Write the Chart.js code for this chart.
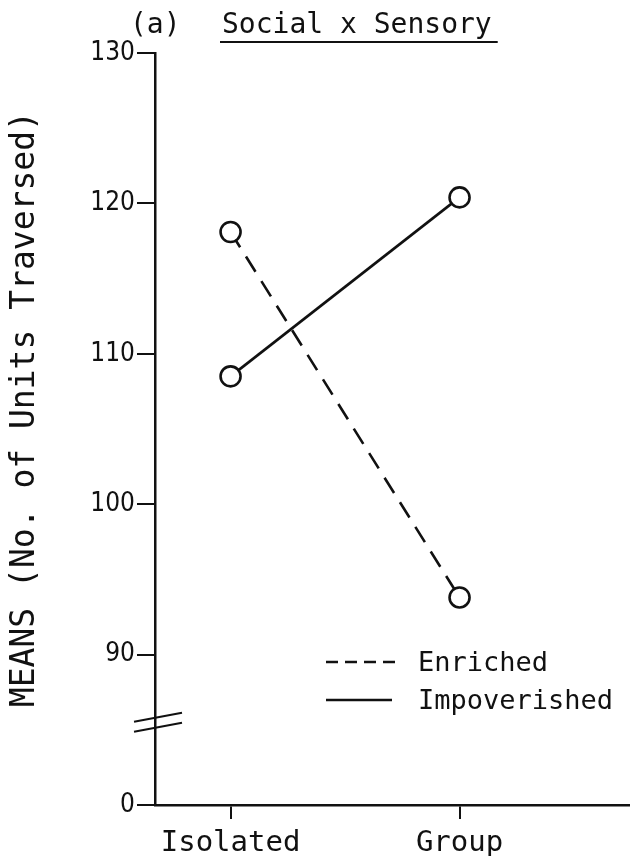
<!DOCTYPE html>
<html>
<head>
<meta charset="utf-8">
<script src="https://cdn.jsdelivr.net/npm/chart.js@4/dist/chart.umd.min.js"></script>
<style>
  body { margin: 0; background: #fff; }
  #wrap { width: 631px; height: 856px; }
</style>
</head>
<body>
<div id="wrap"><canvas id="meansChart"></canvas></div>
<script>
// Data
const categories = ["Isolated", "Group"];
const enriched = [118.1, 93.8];
const impoverished = [108.5, 120.4];
const tickValues = [80, 90, 100, 110, 120, 130];   // 80 sits below the axis break
const tickLabels = ["0", "90", "100", "110", "120", "130"];
const breakValue = 85.5;

const mono = "'DejaVu Sans Mono', 'Liberation Mono', monospace";
const condensed = "'DejaVu Sans Condensed', 'Liberation Sans Narrow', sans-serif";

function toPoints(values) {
  return values.map((v, i) => ({ x: i + 1, y: v }));
}

// Title, legend and axis-break drawn on top of the chart
const extras = {
  id: "extras",
  afterDraw(chart) {
    const c = chart.ctx;
    const y = chart.scales.y;
    c.save();
    c.fillStyle = "#111";
    c.strokeStyle = "#111";
    c.textBaseline = "alphabetic";
    c.font = "28px " + mono;
    c.fillText("(a)", 130, 33);
    c.fillText("Social x Sensory", 222, 33);
    const w = c.measureText("Social x Sensory").width;
    c.lineWidth = 2;
    c.beginPath();
    c.moveTo(220, 42);
    c.lineTo(228 + w, 42);
    c.stroke();

    // axis break
    const by = y.getPixelForValue(breakValue);
    const ax = chart.chartArea.left;
    c.lineWidth = 2.2;
    [-5, 5].forEach(d => {
      c.beginPath();
      c.moveTo(ax - 21, by + d + 4.5);
      c.lineTo(ax + 27, by + d - 4.5);
      c.stroke();
    });

    // legend
    c.font = "27px " + mono;
    const legendDash = [[12, 7], []];
    const legendEnd = [400, 392];
    chart.data.datasets.forEach((ds, i) => {
      const ly = 662 + i * 38;
      c.lineWidth = 2.4;
      c.setLineDash(legendDash[i]);
      c.beginPath();
      c.moveTo(326, ly);
      c.lineTo(legendEnd[i], ly);
      c.stroke();
      c.setLineDash([]);
      c.fillText(ds.label, 418, ly + 9);
    });
    c.restore();
  }
};

new Chart(document.getElementById("meansChart"), {
  type: "line",
  data: {
    datasets: [
      {
        label: "Enriched",
        data: toPoints(enriched),
        borderColor: "#111",
        borderWidth: 2.6,
        borderDash: [18, 11],
        pointRadius: 10,
        pointBorderWidth: 2.6,
        pointBackgroundColor: "#fff",
        pointBorderColor: "#111"
      },
      {
        label: "Impoverished",
        data: toPoints(impoverished),
        borderColor: "#111",
        borderWidth: 2.6,
        pointRadius: 10,
        pointBorderWidth: 2.6,
        pointBackgroundColor: "#fff",
        pointBorderColor: "#111"
      }
    ]
  },
  options: {
    responsive: true,
    maintainAspectRatio: false,
    animation: false,
    layout: { autoPadding: false, padding: { top: 53, right: 2, left: 0, bottom: 0 } },
    plugins: {
      legend: { display: false },
      tooltip: { enabled: false }
    },
    scales: {
      x: {
        type: "linear",
        min: 0.67,
        max: 2.74,
        afterBuildTicks: s => { s.ticks = categories.map((c, i) => ({ value: i + 1 })); },
        afterFit: s => { s.height = 51; },
        ticks: {
          color: "#111",
          padding: 7,
          font: { family: mono, size: 29 },
          callback: v => categories[v - 1]
        },
        grid: { drawOnChartArea: false, tickLength: 14, color: "#111", lineWidth: 2 },
        border: { color: "#111", width: 2.5 }
      },
      y: {
        min: 80,
        max: 130,
        afterBuildTicks: s => { s.ticks = tickValues.map(v => ({ value: v })); },
        afterFit: s => { s.width = 155; },
        ticks: {
          color: "#111",
          padding: 2,
          font: { family: condensed, size: 26 },
          callback: v => tickLabels[tickValues.indexOf(v)]
        },
        grid: { drawOnChartArea: false, tickLength: 18, color: "#111", lineWidth: 2 },
        border: { color: "#111", width: 2.5 },
        title: {
          display: true,
          text: "  MEANS (No. of Units Traversed)",
          color: "#111",
          padding: { top: 6, bottom: 0 },
          font: { family: mono, size: 33 }
        }
      }
    }
  },
  plugins: [extras]
});
</script>
</body>
</html>
